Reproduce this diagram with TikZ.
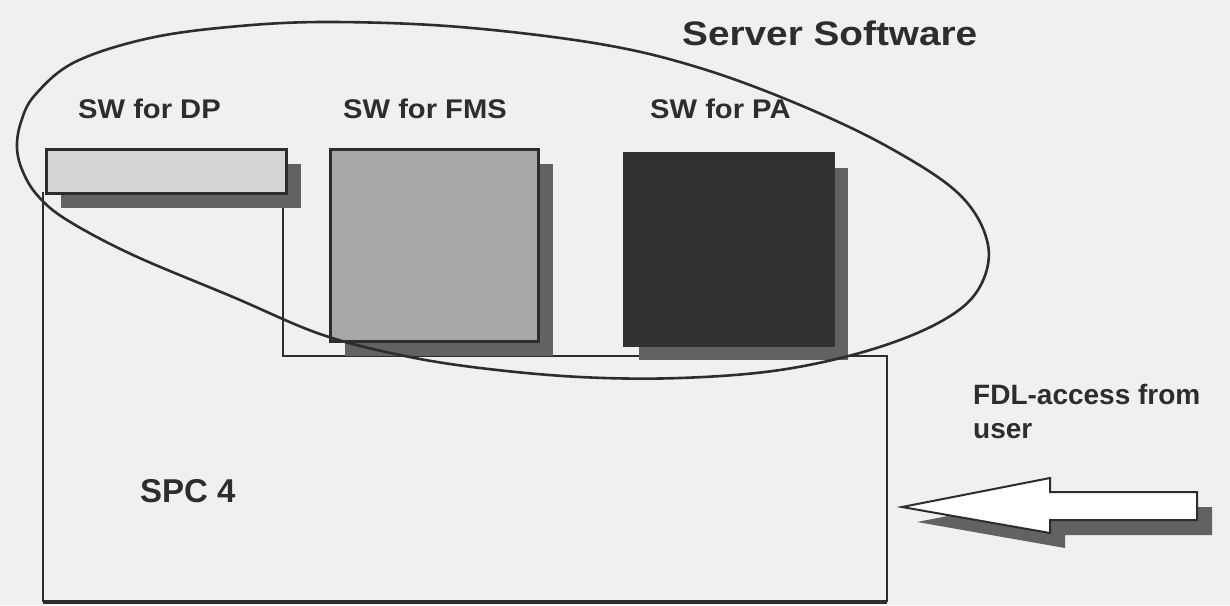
\documentclass[tikz,border=0pt]{standalone}
\usepackage{fontspec}
\setmainfont{Liberation Sans}
\usepackage{graphicx}
\usepackage{xcolor}
\usepackage{tikz}
\usetikzlibrary{positioning,%
  shadows,%
  calc%
}

\definecolor{paper}{RGB}{240,240,240}
\definecolor{ink}{RGB}{45,45,45}
\definecolor{dplight}{RGB}{212,212,212}
\definecolor{fmsgray}{RGB}{168,168,168}
\definecolor{padark}{RGB}{50,50,50}
\definecolor{shade}{RGB}{98,98,98}

\newcommand{\wide}[2]{\scalebox{#1}[1]{#2}}

\begin{document}
\begin{tikzpicture}[x=1pt,y=-1pt,
    shadowed/.style={drop shadow={shadow xshift=15pt,shadow yshift=-15pt,fill=shade,opacity=1}},
    swbox/.style={draw=ink,line width=2.5pt,inner sep=0pt,anchor=north west,shadowed},
    lbl/.style={anchor=base west,inner sep=0pt,text=ink,font=\bfseries\fontsize{27}{32}\selectfont}]
            \fill [paper] (0,0) rectangle (1230,605);
            \useasboundingbox (0,0) rectangle (1230,605);

            % SPC 4 outline
            \draw [ink,line width=2.5pt] (283,192) -- (283,356) -- (887,356) -- (887,602);
            \draw [ink,line width=2.5pt] (43,192) -- (43,602);
            \draw [ink,line width=3.5pt] (43,602) -- (887,602);

            % software blocks
            \node [swbox,fill=dplight,minimum width=240pt,minimum height=44pt] (dp) at (45,148) {};
            \node [swbox,fill=fmsgray,minimum width=208pt,minimum height=192pt] (fms) at (329,148) {};
            \node [swbox,fill=padark,draw=padark,minimum width=209pt,minimum height=192pt] (pa) at (623,152) {};

            % user access arrow
            \filldraw [fill=white,draw=ink,line width=2pt,line join=miter,shadowed]
              (902,507) -- (1050,478) -- (1050,492) -- (1197,492) -- (1197,520) -- (1050,520) -- (1050,533) -- cycle;

            \node [lbl,font=\bfseries\fontsize{34}{40}\selectfont] (title) at (682,45) {\wide{1.14}{Server Software}};
            \node [lbl] (dplbl) at (78,118) {\wide{1.08}{SW for DP}};
            \node [lbl] (fmslbl) at (343,118) {\wide{1.08}{SW for FMS}};
            \node [lbl] (palbl) at (650,118) {\wide{1.08}{SW for PA}};
            \node [lbl,font=\bfseries\fontsize{33}{38}\selectfont] (spc) at (140,502) {SPC 4};
            \node [lbl,anchor=north west,align=left,font=\bfseries\fontsize{28}{34}\selectfont] (fdl) at (973,384) {FDL-access from\\user};

            % server software ring
            \draw [ink,line width=2.6pt] plot [smooth cycle,tension=0.6] coordinates {
              (17,148) (21,122) (35,95) (75,62) (150,38) (240,26) (333,22) (460,27)
              (600,44) (700,68) (800,105) (890,148) (960,195) (988,245) (978,290)
              (940,322) (870,350) (780,370) (680,378) (580,377) (480,368) (400,355)
              (320,334) (233,297) (133,255) (67,220) (38,196) (23,172)};
        \end{tikzpicture}
\end{document}
